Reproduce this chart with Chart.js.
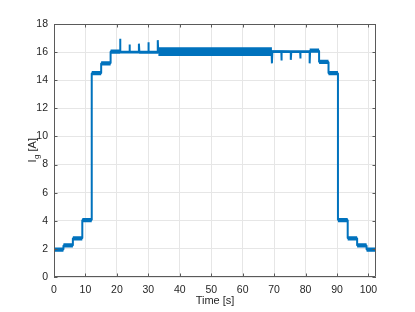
<!DOCTYPE html>
<html>
<head>
<meta charset="utf-8">
<script src="https://cdn.jsdelivr.net/npm/chart.js@4/dist/chart.umd.min.js"></script>
<style>
  html, body { margin: 0; padding: 0; background: #ffffff; }
  #wrap { width: 415px; height: 312px; }
</style>
</head>
<body>
<div id="wrap"><canvas id="c" width="415" height="312"></canvas></div>
<script>
// ---- Data ----
const timeS = [0,3,3,6,6,9,9,12,12,15,15,18,18,21,21,21.15,24,24,24.15,27,27,27.15,30,30,30.15,33,33,33.15,
  69.2,69.3,69.45,72.3,72.3,72.45,75.3,75.3,75.45,78.3,78.3,78.45,81.3,81.3,81.45,84.3,84.3,87.3,87.3,
  90.3,90.3,93.4,93.4,96.4,96.4,99.4,99.4,102.4];
const currentA = [1.95,1.95,2.25,2.25,2.75,2.75,4.05,4.05,14.5,14.5,15.2,15.2,16.05,16.05,16.95,16.0,16.0,16.55,16.0,16.0,16.6,15.98,15.98,16.7,15.98,15.98,16.85,16.03,
  16.03,15.2,16.05,16.05,15.4,16.05,16.0,15.45,16.0,16.0,15.55,16.0,16.0,15.2,16.1,16.1,15.3,15.3,14.5,
  14.5,4.05,4.05,2.75,2.75,2.25,2.25,1.95,1.95];

// flat segments of the trace and the spread (noise) around each level
const segStart = [0, 3, 6, 9, 12, 15, 18, 21, 33.2, 69.3, 81.3, 84.3, 87.3, 90.3, 93.4, 96.4, 99.4];
const segEnd   = [3, 6, 9, 12, 15, 18, 21, 33.2, 69.3, 81.3, 84.3, 87.3, 90.3, 93.4, 96.4, 99.4, 102.4];
const segLevel = [1.95, 2.25, 2.75, 4.05, 14.5, 15.2, 16.03, 16.0, 16.03, 16.03, 16.1, 15.3, 14.5, 4.05, 2.75, 2.25, 1.95];
const segSpread= [0.15, 0.15, 0.15, 0.15, 0.15, 0.15, 0.15, 0.1, 0.31, 0.1, 0.15, 0.15, 0.15, 0.15, 0.15, 0.15, 0.15];

const xTicks = [0,10,20,30,40,50,60,70,80,90,100];
const yTicks = [0,2,4,6,8,10,12,14,16,18];
const xLabel = "Time [s]";
const yLabelMain = "I", yLabelSub = "g", yLabelUnit = " [A]";

// ---- Build datasets ----
const trace = timeS.map((t, i) => ({x: t, y: currentA[i]}));
const upper = [], lower = [];
segStart.forEach((s, i) => {
  upper.push({x: s, y: segLevel[i] + segSpread[i]}, {x: segEnd[i], y: segLevel[i] + segSpread[i]});
  lower.push({x: s, y: segLevel[i] - segSpread[i]}, {x: segEnd[i], y: segLevel[i] - segSpread[i]});
});

const BLUE = '#0072BD';
const TXT = '#262626';
const FONT = '"Liberation Sans", Arial, Helvetica, sans-serif';

const matlabAxes = {
  id: 'matlabAxes',
  afterDraw(chart) {
    const ctx = chart.ctx, a = chart.chartArea;
    const xs = chart.scales.x, ys = chart.scales.y;
    ctx.save();
    ctx.strokeStyle = '#5a5a5a';
    ctx.lineWidth = 1;
    // box
    ctx.beginPath();
    ctx.rect(Math.round(a.left) + 0.5, Math.round(a.top) + 0.5, Math.round(a.right - a.left) - 1, Math.round(a.bottom - a.top) - 1);
    ctx.stroke();
    // inward ticks
    const tl = 3.5;
    ctx.beginPath();
    xTicks.forEach(v => {
      const px = Math.round(xs.getPixelForValue(v)) + 0.5;
      ctx.moveTo(px, a.bottom); ctx.lineTo(px, a.bottom - tl);
      ctx.moveTo(px, a.top); ctx.lineTo(px, a.top + tl);
    });
    yTicks.forEach(v => {
      const py = Math.round(ys.getPixelForValue(v)) + 0.5;
      ctx.moveTo(a.left, py); ctx.lineTo(a.left + tl, py);
      ctx.moveTo(a.right, py); ctx.lineTo(a.right - tl, py);
    });
    ctx.stroke();
    // x label
    ctx.fillStyle = TXT;
    ctx.font = '11px ' + FONT;
    ctx.textAlign = 'center';
    ctx.textBaseline = 'middle';
    ctx.fillText(xLabel, (a.left + a.right) / 2, 301);
    // y label with subscript
    ctx.translate(32, (a.top + a.bottom) / 2);
    ctx.rotate(-Math.PI / 2);
    ctx.textBaseline = 'alphabetic';
    ctx.textAlign = 'left';
    const fMain = '11px ' + FONT, fSub = '8px ' + FONT;
    ctx.font = fMain; const w1 = ctx.measureText(yLabelMain).width;
    const w3 = ctx.measureText(yLabelUnit).width;
    ctx.font = fSub; const w2 = ctx.measureText(yLabelSub).width;
    let x0 = -(w1 + w2 + w3) / 2;
    ctx.font = fMain; ctx.fillText(yLabelMain, x0, 4);
    ctx.font = fSub; ctx.fillText(yLabelSub, x0 + w1 + 0.5, 7);
    ctx.font = fMain; ctx.fillText(yLabelUnit, x0 + w1 + w2 + 0.5, 4);
    ctx.restore();
  }
};

new Chart(document.getElementById('c'), {
  type: 'line',
  data: {
    datasets: [
      { data: upper, borderWidth: 0, pointRadius: 0, fill: false, borderColor: 'rgba(0,0,0,0)' },
      { data: lower, borderWidth: 0, pointRadius: 0, fill: '-1', backgroundColor: BLUE, borderColor: 'rgba(0,0,0,0)' },
      { data: trace, borderColor: BLUE, borderWidth: 2, pointRadius: 0, fill: false,
        borderJoinStyle: 'bevel', tension: 0 }
    ]
  },
  options: {
    responsive: false,
    animation: false,
    devicePixelRatio: 1,
    layout: { padding: { top: 24, right: 39, left: 0, bottom: 0 } },
    plugins: { legend: { display: false }, tooltip: { enabled: false } },
    scales: {
      x: {
        type: 'linear', min: 0, max: 102.4,
        afterFit(s) { s.height = 35; },
        afterBuildTicks(s) { s.ticks = xTicks.map(v => ({value: v})); },
        grid: { color: '#e6e6e6', drawTicks: false, lineWidth: 1 },
        border: { display: false },
        ticks: { autoSkip: false, maxRotation: 0, padding: 7, color: TXT, font: { size: 10.5, family: FONT } }
      },
      y: {
        type: 'linear', min: 0, max: 18,
        afterFit(s) { s.width = 54; },
        afterBuildTicks(s) { s.ticks = yTicks.map(v => ({value: v})); },
        grid: { color: '#e6e6e6', drawTicks: false, lineWidth: 1 },
        border: { display: false },
        ticks: { autoSkip: false, padding: 6, color: TXT, font: { size: 10.5, family: FONT } }
      }
    }
  },
  plugins: [matlabAxes]
});
</script>
</body>
</html>
